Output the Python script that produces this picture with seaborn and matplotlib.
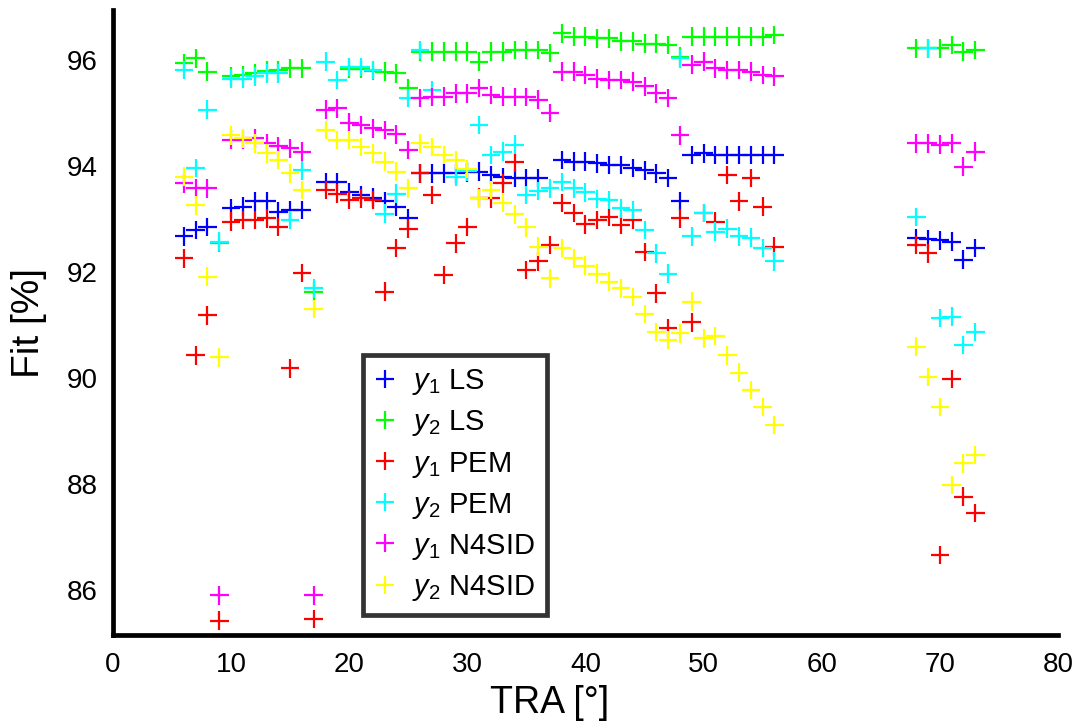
import numpy as np
import pandas as pd
import matplotlib
matplotlib.use("Agg")
import matplotlib.pyplot as plt
import seaborn as sns

nan = np.nan
tra = [6, 7, 8, 9, 10, 11, 12, 13, 14, 15, 16, 17, 18, 19, 20, 21, 22, 23, 24, 25,
       26, 27, 28, 29, 30, 31, 32, 33, 34, 35, 36, 37, 38, 39, 40, 41, 42, 43, 44, 45,
       46, 47, 48, 49, 50, 51, 52, 53, 54, 55, 56, 68, 69, 70, 71, 72, 73]

y1_ls = [92.67, 92.79, 92.85, nan, 93.20, 93.23, 93.33, 93.33, 93.14, 93.17,
         93.17, nan, 93.70, 93.70, 93.51, 93.45, 93.40, 93.33, 93.23, 93.01,
         93.86, 93.86, 93.86, 93.86, 93.88, 93.89, 93.83, 93.79, 93.77, 93.77,
         93.77, nan, 94.11, 94.08, 94.08, 94.05, 94.02, 94.02, 93.96, 93.92,
         93.86, 93.77, 93.33, 94.21, 94.24, 94.21, 94.21, 94.21, 94.21, 94.21,
         94.21, 92.64, 92.62, 92.60, 92.57, 92.23, 92.45]

y2_ls = [95.94, 96.03, 95.78, 92.55, 95.69, 95.72, 95.75, 95.80, 95.81, 95.84,
         95.84, 91.63, nan, nan, 95.83, 95.83, 95.79, 95.78, 95.75, 95.47,
         96.16, 96.16, 96.16, 96.16, 96.16, 95.97, 96.16, 96.16, 96.19, 96.19,
         96.19, 96.13, 96.50, 96.44, 96.44, 96.41, 96.41, 96.35, 96.35, 96.31,
         96.31, 96.28, 96.06, 96.44, 96.44, 96.44, 96.44, 96.44, 96.44, 96.44,
         96.47, 96.22, 96.22, 96.22, 96.28, 96.16, 96.19]

y1_pem = [92.26, 90.43, 91.18, 85.42, 92.95, 92.98, 92.98, 93.01, 92.85, 90.18,
          91.98, 85.45, 93.55, 93.48, 93.36, 93.39, 93.36, 91.63, 92.45, 92.82,
          93.86, 93.45, 91.94, 92.54, 92.85, 93.40, 93.39, 93.67, 94.07, 92.04,
          92.20, 92.51, 93.30, 93.11, 92.90, 92.98, 93.04, 92.89, 92.98, 92.38,
          91.60, 90.94, 93.01, 91.05, 93.11, 92.95, 93.83, 93.33, 93.77, 93.23,
          92.48, 92.51, 92.35, 86.66, 89.98, 87.76, 87.45]

y2_pem = [95.81, 93.96, 95.06, 92.57, 95.65, 95.65, 95.69, 95.75, 95.75, 92.98,
          93.92, 91.69, 95.97, 95.62, 95.87, 95.87, 95.81, 93.10, 93.48, 95.28,
          96.19, 95.43, nan, 93.80, 93.90, 94.77, 94.21, 94.27, 94.40, 93.45,
          93.53, 93.58, 93.70, 93.58, 93.50, 93.38, 93.36, 93.20, 93.17, 92.79,
          92.35, 91.97, 96.03, 92.67, 93.11, 92.76, 92.82, 92.67, 92.65, 92.45,
          92.20, 93.04, 96.22, 91.13, 91.16, 90.62, 90.87]

y1_n4sid = [93.67, 93.58, 93.58, 85.90, 94.49, 94.49, 94.52, 94.43, 94.37, 94.33,
            94.27, 85.90, 95.06, 95.09, 94.82, 94.77, 94.71, 94.68, 94.60, 94.30,
            95.28, 95.30, 95.31, 95.37, 95.37, 95.47, 95.34, 95.31, 95.30, 95.30,
            95.25, 95.00, 95.78, 95.78, 95.72, 95.65, 95.62, 95.62, 95.59, 95.50,
            95.37, 95.28, 94.58, 95.91, 95.97, 95.84, 95.81, 95.81, 95.78, 95.72,
            95.69, 94.43, 94.43, 94.40, 94.43, 93.99, 94.27]

y2_n4sid = [93.80, 93.26, 91.91, 90.39, 94.58, 94.52, 94.43, 94.24, 94.11, 93.86,
            93.55, 91.30, 94.68, 94.49, 94.49, 94.36, 94.24, 94.08, 93.89, 93.58,
            94.43, 94.36, 94.21, 94.11, 93.94, 93.39, 93.55, 93.30, 93.09, 92.84,
            92.48, 91.88, 92.45, 92.26, 92.12, 91.97, 91.82, 91.69, 91.53, 91.21,
            90.87, 90.72, 90.84, 91.44, 90.75, 90.79, 90.43, 90.10, 89.77, 89.45,
            89.11, 90.59, 90.02, 89.45, 87.98, 88.39, 88.55]

series_labels = [r"$y_1$ LS", r"$y_2$ LS", r"$y_1$ PEM", r"$y_2$ PEM",
                 r"$y_1$ N4SID", r"$y_2$ N4SID"]
series_values = [y1_ls, y2_ls, y1_pem, y2_pem, y1_n4sid, y2_n4sid]
series_colors = ["#0000ff", "#00ff00", "#ff0000", "#00ffff", "#ff00ff", "#ffff00"]

x_ticks = [0, 10, 20, 30, 40, 50, 60, 70, 80]
y_ticks = [86, 88, 90, 92, 94, 96]

frames = []
for lab, vals in zip(series_labels, series_values):
    frames.append(pd.DataFrame({"TRA": tra, "Fit": vals, "series": lab}))
df = pd.concat(frames, ignore_index=True).dropna()

sns.set_theme(style="white")
plt.rcParams["font.family"] = ["Liberation Sans", "DejaVu Sans"]
plt.rcParams["mathtext.fontset"] = "custom"
plt.rcParams["mathtext.it"] = "Liberation Sans:italic"
plt.rcParams["mathtext.rm"] = "Liberation Sans"
plt.rcParams["text.color"] = "black"
plt.rcParams["axes.labelcolor"] = "black"
plt.rcParams["xtick.color"] = "black"
plt.rcParams["ytick.color"] = "black"

fig = plt.figure(figsize=(10.79, 7.26), dpi=100)
ax = fig.add_axes([0.1047, 0.1253, 0.8758, 0.8607])

sns.scatterplot(data=df, x="TRA", y="Fit", hue="series", hue_order=series_labels,
                palette=dict(zip(series_labels, series_colors)), marker="+",
                s=180, linewidth=1.6, ax=ax, legend=True)

ax.set_xlim(0, 80)
ax.set_ylim(85.15, 96.94)
ax.set_xticks(x_ticks)
ax.set_yticks(y_ticks)
ax.tick_params(axis="both", length=0, labelsize=20, colors="black")
ax.tick_params(axis="x", pad=12)
ax.tick_params(axis="y", pad=11)
for side in ["top", "right"]:
    ax.spines[side].set_visible(False)
for side in ["left", "bottom"]:
    ax.spines[side].set_visible(True)
    ax.spines[side].set_color("black")
    ax.spines[side].set_linewidth(3.4)
ax.set_xlabel("TRA [°]", fontsize=27)
ax.set_ylabel("Fit [%]", fontsize=28)
ax.xaxis.set_label_coords(0.462, -0.08)
ax.yaxis.set_label_coords(-0.07, 0.5)

leg = ax.legend(loc="lower left", bbox_to_anchor=(0.2646, 0.032), fontsize=21,
                frameon=True, fancybox=False, edgecolor="#333333", framealpha=1,
                handlelength=0.7, handletextpad=0.55, labelspacing=0.38,
                borderpad=0.42, borderaxespad=0.0, markerscale=1.0, title=None)
leg.get_frame().set_linewidth(3.4)
for t in leg.get_texts():
    t.set_color("black")

fig.savefig("out.png", dpi=100, facecolor="white")
